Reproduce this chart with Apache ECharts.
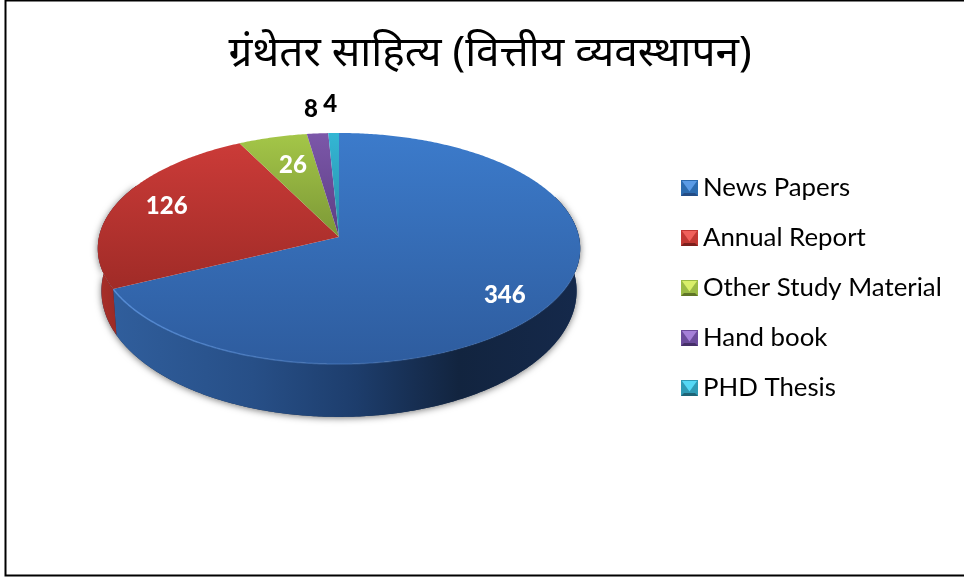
<!DOCTYPE html>
<html>
<head>
<meta charset="utf-8">
<style>html,body{margin:0;padding:0;background:#fff}#c{width:964px;height:580px}</style>
<script src="https://cdn.jsdelivr.net/npm/echarts@6/dist/echarts.min.js"></script>
</head>
<body>
<div id="c"></div>
<script>
const chartTitle = 'ग्रंथेतर साहित्य (वित्तीय व्यवस्थापन)';
const categories = ['News Papers', 'Annual Report', 'Other Study Material', 'Hand book', 'PHD Thesis'];
const values = [346, 126, 26, 8, 4];
const labelColors = ['#fff', '#fff', '#fff', '#000', '#000'];
const labelRadius = [0.8, 0.8, 0.72, 1.24, 1.3];
const labelNudge = [[-4, 7], [5, -2], [3, 2], [-2, -2], [-2, -1]];
const topColors = [['#3c7bcb', '#2e5c9e'], ['#cb3b38', '#a02b27'], ['#a4c648', '#7c9836'], ['#7c57a9', '#5c3e84'], ['#33b6d4', '#2a8ea8']];
const swatchLight = ['#5a9be6', '#f0605a', '#d9ef6a', '#a580d8', '#55d8f5'];
const swatchBody = ['#2c6cb0', '#c23833', '#9bbb45', '#6c4c9c', '#2f9bb5'];
const swatchDark = ['#234c85', '#7c1f1c', '#5f7526', '#452f68', '#1e6476'];
const wallStops = [
  [[0, '#305e9c'], [0.3, '#274f87'], [0.52, '#1d3d6c'], [0.74, '#12243f'], [1, '#15294b']],
  [[0, '#a92f2a'], [1, '#8c2520']]
];

// perspective view of the pie disc
const apexX = 339, apexY = 237, rimA = 240, rimB = 114.4, tilt = 0.0996;
const depthShift = 41.4, depthScaleY = 1.09, depthScaleX = 0.985;
const legendLeft = 681, legendTop = 180, swatchW = 17, swatchH = 16, legendStep = 50;
const total = values.reduce((a, b) => a + b, 0);
const starts = values.map((v, i) => values.slice(0, i).reduce((a, b) => a + b, 0));
const toTheta = v => v / total * 2 * Math.PI;

function project(theta, r, lower) {
  const x = Math.sin(theta) * r, y = -Math.cos(theta) * r;
  const d = 1 - tilt * y;
  if (lower) {
    return [apexX + depthScaleX * rimA * x / d, apexY + depthShift + depthScaleY * rimB * y / d];
  }
  return [apexX + rimA * x / d, apexY + rimB * y / d];
}
function arc(t0, t1, lower) {
  const pts = [], n = Math.max(2, Math.ceil(Math.abs(t1 - t0) / 0.01));
  for (let i = 0; i <= n; i++) pts.push(project(t0 + (t1 - t0) * i / n, 1, lower));
  return pts;
}
const linear = (stops, horizontal) => new echarts.graphic.LinearGradient(0, 0, horizontal ? 1 : 0, horizontal ? 0 : 1,
  stops.map(s => ({ offset: s[0], color: s[1] })));

function renderSlice(index) {
  return function () {
    const t0 = toTheta(starts[index]), t1 = toTheta(starts[index] + values[index]);
    const children = [];
    if (index === 0) {
      const lo = 1.2, hi = 5.2;
      children.push({
        type: 'polygon',
        shape: { points: arc(lo, hi, false).concat(arc(lo, hi, true).reverse()) },
        style: { fill: '#1a3358', shadowBlur: 7, shadowColor: 'rgba(0,0,0,0.55)', shadowOffsetY: 1 }
      });
    }
    if (index < wallStops.length) {
      const a = index === 0 ? 1.2 : t0, b = index === 0 ? t1 : 5.2;
      children.push({
        type: 'polygon',
        shape: { points: arc(a, b, false).concat(arc(a, b, true).reverse()) },
        style: { fill: linear(wallStops[index], true) }
      });
    }
    children.push({
      type: 'polygon',
      shape: { points: [[apexX, apexY]].concat(arc(t0, t1, false)) },
      style: { fill: linear([[0, topColors[index][0]], [1, topColors[index][1]]], false) }
    });
    if (index === 0) {
      children.push({
        type: 'polyline',
        shape: { points: arc(1.9, t1, false) },
        style: { fill: 'none', lineWidth: 1.5, stroke: new echarts.graphic.LinearGradient(0, 0, 1, 0, [
          { offset: 0, color: 'rgba(90,145,220,0.9)' }, { offset: 0.45, color: 'rgba(80,130,200,0.5)' },
          { offset: 0.75, color: 'rgba(80,130,200,0.12)' }, { offset: 1, color: 'rgba(80,130,200,0.25)' }]) }
      });
    }
    const mid = toTheta(starts[index] + values[index] / 2);
    const p = project(mid, labelRadius[index], false);
    children.push({
      type: 'text',
      z2: 100,
      style: { x: p[0] + labelNudge[index][0], y: p[1] + labelNudge[index][1], text: String(values[index]), fill: labelColors[index],
        font: '900 24px Lato, sans-serif', align: 'center', verticalAlign: 'middle' }
    });
    return { type: 'group', children };
  };
}

function swatchBevels() {
  const out = [];
  categories.forEach((name, i) => {
    const x = legendLeft, y = legendTop + legendStep * i;
    out.push(
      { type: 'polygon', silent: true, z: 50, shape: { points: [[x, y + swatchH], [x + swatchW, y + swatchH], [x + swatchW - 3, y + swatchH - 3], [x + 3, y + swatchH - 3]] }, style: { fill: swatchDark[i] } },
      { type: 'polygon', silent: true, z: 51, shape: { points: [[x + 1, y + 1], [x + swatchW - 1, y + 1], [x + swatchW / 2, y + swatchH * 0.72]] }, style: { fill: swatchLight[i] } }
    );
  });
  return out;
}

const chart = echarts.init(document.getElementById('c'), null, { renderer: 'canvas' });
chart.setOption({
  animation: false,
  backgroundColor: '#fff',
  title: {
    text: chartTitle, left: 485, top: 28, textAlign: 'center',
    textStyle: { color: '#000', fontWeight: 'normal', fontSize: 42.3, fontFamily: '"Noto Sans", sans-serif' }
  },
  legend: {
    orient: 'vertical', left: legendLeft, top: legendTop - 5, padding: 0, itemWidth: swatchW, itemHeight: swatchH, itemGap: legendStep - 26,
    selectedMode: false, icon: 'rect',
    textStyle: { color: '#000', fontSize: 25.8, fontFamily: 'Lato, sans-serif' },
    data: categories.map((name, i) => ({
      name,
      itemStyle: { color: swatchBody[i], borderWidth: 0 }
    }))
  },
  graphic: [{
    type: 'rect', silent: true, z: -1,
    shape: { x: 5.5, y: 0.5, width: 980, height: 575 },
    style: { fill: 'none', stroke: '#000', lineWidth: 2 }
  }].concat(swatchBevels()),
  series: categories.map((name, i) => ({
    type: 'custom', name, coordinateSystem: 'none', silent: true, z: 2 + i,
    itemStyle: { color: swatchBody[i] },
    data: [[values[i]]],
    renderItem: renderSlice(i)
  }))
});
</script>
</body>
</html>
